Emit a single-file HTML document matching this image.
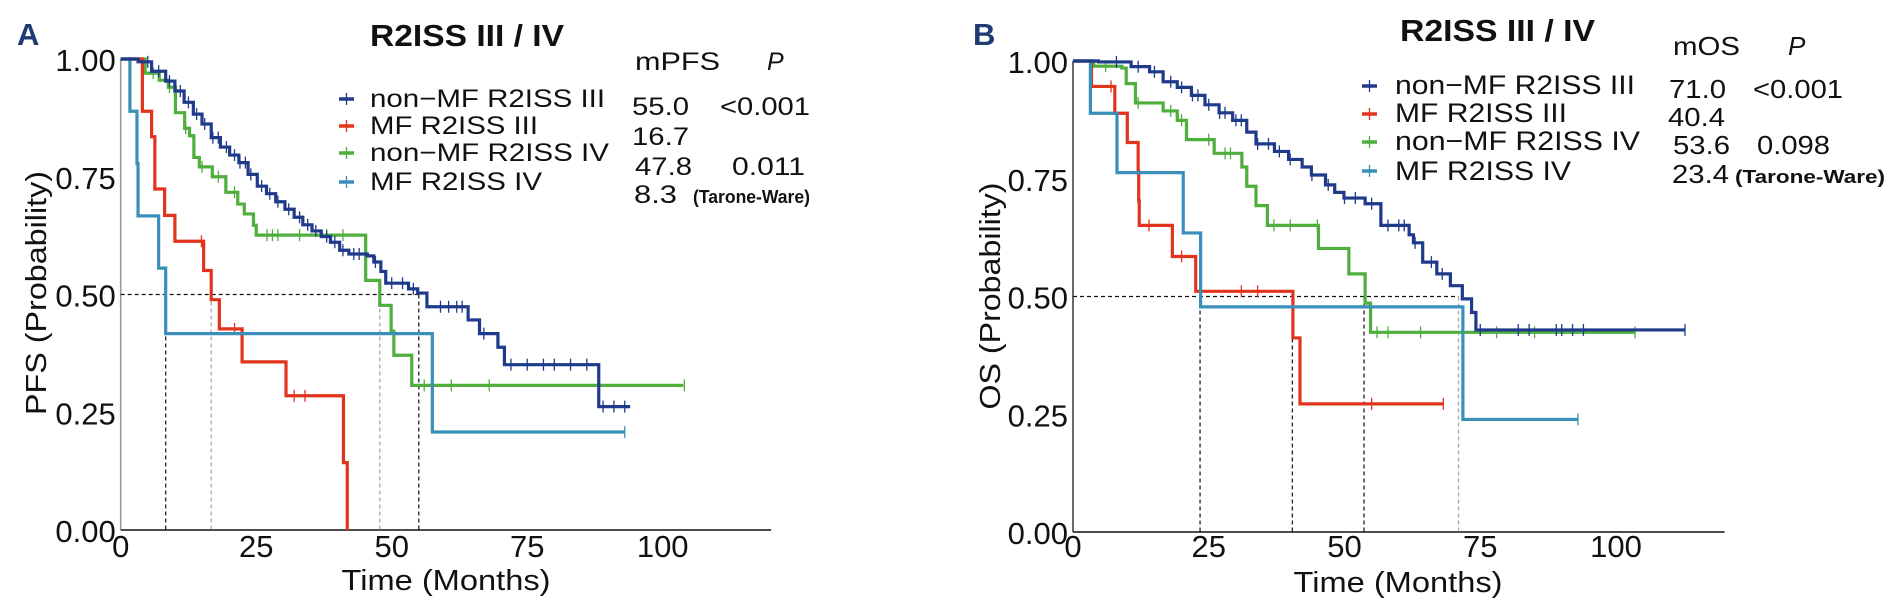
<!DOCTYPE html>
<html><head><meta charset="utf-8"><style>
html,body{margin:0;padding:0;background:#fff;}
svg{display:block;font-family:"Liberation Sans",Arial,sans-serif;}
</style></head><body>
<svg id="chart" width="1901" height="609" viewBox="0 0 1901 609" xmlns="http://www.w3.org/2000/svg">
<rect width="1901" height="609" fill="#fff"/>
<g id="panelA"></g>
<g id="panelB"></g>
</svg>
<script>
// ---------- Panel A (PFS) data ----------
const aNavyT=[3.2,5.7,8.3,10.0,11.7,13.4,15.0,16.7,18.4,20.1,21.8,23.5,25.2,26.9,28.6,30.3,32.0,33.6,35.3,37.0,38.7,40.4,42.1,45.5,46.7,48.0,48.9,53.1,54.8,56.5,64.1,66.2,69.6,70.8,88.2];
const aNavyS=[.994,.974,.953,.932,.908,.883,.862,.833,.813,.796,.780,.755,.730,.714,.697,.681,.664,.648,.635,.623,.611,.594,.586,.582,.569,.549,.524,.512,.503,.474,.446,.417,.388,.351,.262];
const aNavyEnd=94;
const aNavyCens=[5,7,9,11,12.5,14,15.5,17,18,19.5,21,22,23,24,26,27.5,29,31,33,34.5,36,38,39.5,41,43,44,47,50,52,54,59,60.5,62,63,67,72,75,78,80,83,86,89,91,93];
const aRedT=[4.0,5.7,6.3,8.1,10.0,15.3,16.7,18.2,22.4,30.5,41.1,41.8];
const aRedS=[.889,.835,.724,.668,.613,.551,.489,.427,.357,.285,.143,0];
const aRedEnd=41.8;
const aRedCens=[14.9,21,32,34];
const aGreenT=[4.5,5.4,7.1,8.8,10.1,11.8,12.7,13.5,14.5,16.9,19.4,21.6,22.8,24.5,25.0,45.2,47.8,49.9,50.4,53.7];
const aGreenS=[.97,.97,.955,.94,.886,.853,.837,.791,.771,.75,.717,.692,.671,.647,.626,.53,.477,.422,.371,.307];
const aGreenEnd=103.8;
const aGreenCens=[6,9,12,15,18,21,27,28,29,33,38,41,56,61,68,104];
const aLBlueT=[1.7,3.0,3.2,7.0,8.3,57.5];
const aLBlueS=[.889,.778,.667,.556,.417,.208];
const aLBlueEnd=93;
const aLBlueCens=[93];
const aMedians=[8.3,16.7,47.8,55.0];
const aMedianDark=[true,false,false,true];

// ---------- Panel B (OS) data ----------
const bNavyT=[4.7,10.7,14.1,16.6,19.2,21.8,24.3,26.9,29.4,32.0,33.7,37.1,39.7,42.2,43.9,46.5,48.2,49.9,53.8,56.7,61.9,62.7,64.4,67.0,69.5,71.7,73.4,74.2];
const bNavyS=[.998,.988,.977,.956,.944,.927,.907,.890,.874,.849,.824,.808,.791,.775,.758,.737,.721,.709,.697,.651,.631,.614,.573,.548,.523,.495,.466,.429];
const bNavyEnd=112.7;
const bNavyCens=[8,12,15,18,20,22,23,25,27,28,30,31,34,36,38,40,44,47,50,52,55,58,60,61,63,66,68,75,82,84,89,90,92,94,112.7];
const bRedT=[3.4,7.7,10.0,12.0,12.1,12.2,18.3,22.6,40.5,41.8];
const bRedS=[.946,.889,.827,.765,.703,.651,.585,.511,.412,.272];
const bRedEnd=68.2;
const bRedCens=[7,14,20,31,34,55,68.2];
const bGreenT=[3.8,9.0,9.8,11.5,16.6,19.2,20.9,26.0,31.1,32.0,33.7,35.8,45.2,50.8,53.8,54.8];
const bGreenS=[.989,.985,.952,.911,.894,.874,.833,.804,.775,.734,.693,.651,.602,.548,.486,.424];
const bGreenEnd=103.5;
const bGreenCens=[6,12,18,20,25,28,29,37,40,45,56,58,64,78,85,103.5];
const bLBlueT=[3.2,8.1,20.3,23.5,71.8];
const bLBlueS=[.889,.763,.635,.478,.239];
const bLBlueEnd=93;
const bLBlueCens=[93];
const bMedians=[23.4,40.4,53.6,71.0];
const bMedianDark=[true,true,true,false];

const xTicks=[0,25,50,75,100];
const yTicks=[0,0.25,0.5,0.75,1.0];
const yTickLabels=["0.00","0.25","0.50","0.75","1.00"];

const NS="http://www.w3.org/2000/svg";
const NAVY="#1f3a8a",RED="#e2341d",GREEN="#4fae3c",LBLUE="#3a90b8";

function mk(tag,attrs,parent){const e=document.createElementNS(NS,tag);for(const k in attrs)e.setAttribute(k,attrs[k]);parent.appendChild(e);return e;}
function txt(parent,s,attrs){const e=mk('text',attrs,parent);e.textContent=s;return e;}

function survAt(T,S,t){let s=1;for(let i=0;i<T.length;i++){if(T[i]<=t)s=S[i];}return s;}

function drawPanel(g,cfg){
  const X=t=>cfg.x0+t*cfg.xs;
  const Y=s=>cfg.y0-s*cfg.ys;
  // axes
  const ya=mk('line',{x1:X(0),y1:Y(1),x2:X(0),y2:Y(0),stroke:cfg.yAxisColor,'stroke-width':1.6},g);
  
  
  const xa=mk('line',{x1:X(0),y1:Y(0),x2:X(120),y2:Y(0),stroke:'#111','stroke-width':1.6},g);
  
  
  yTicks.forEach((v,i)=>{
    const t=txt(g,yTickLabels[i],{x:X(0)-5,y:Y(v)+12,'font-size':31,'text-anchor':'end',fill:'#111'});
    
    
  });
  xTicks.forEach(v=>{
    const t=txt(g,String(v),{x:X(v),y:557,'font-size':31,'text-anchor':'middle',fill:'#111'});
    
    
  });
  // median lines
  const maxMed=Math.max(...cfg.medians);
  const hl=mk('line',{x1:X(0),y1:Y(0.5),x2:X(maxMed),y2:Y(0.5),stroke:'#111','stroke-width':1.3,'stroke-dasharray':'4,3'},g);
  
  
  cfg.medians.forEach((m,i)=>{
    const l=mk('line',{x1:X(m),y1:Y(0.5),x2:X(m),y2:Y(0),stroke:cfg.medDark[i]?'#222':'#aaa','stroke-width':1.3,'stroke-dasharray':'4,3'},g);
    
    
  });
  // curves
  cfg.series.forEach(sr=>{
    let d=`M${X(0)},${Y(1)}`;
    for(let i=0;i<sr.T.length;i++){d+=` H${X(sr.T[i])} V${Y(sr.S[i])}`;}
    d+=` H${X(sr.end)}`;
    const p=mk('path',{d:d,fill:'none',stroke:sr.color,'stroke-width':3.2},g);
    
    
    sr.cens.forEach(c=>{
      const yy=Y(survAt(sr.T,sr.S,c));
      const cl=mk('line',{x1:X(c),y1:yy-6,x2:X(c),y2:yy+6,stroke:sr.color,'stroke-width':1.3},g);
      
      
    });
  });
}

const gA=document.getElementById('panelA');
drawPanel(gA,{x0:120.7,xs:5.42,y0:530,ys:471,yAxisColor:'#999',medians:aMedians,medDark:aMedianDark,series:[
  {name:'nonmf-r2iss-iv',T:aGreenT,S:aGreenS,end:aGreenEnd,cens:aGreenCens,color:GREEN},
  {name:'mf-r2iss-iii',T:aRedT,S:aRedS,end:aRedEnd,cens:aRedCens,color:RED},
  {name:'mf-r2iss-iv',T:aLBlueT,S:aLBlueS,end:aLBlueEnd,cens:aLBlueCens,color:LBLUE},
  {name:'nonmf-r2iss-iii',T:aNavyT,S:aNavyS,end:aNavyEnd,cens:aNavyCens,color:NAVY}]});
const gB=document.getElementById('panelB');
drawPanel(gB,{x0:1073,xs:5.43,y0:532,ys:471,yAxisColor:'#444',medians:bMedians,medDark:bMedianDark,series:[
  {name:'nonmf-r2iss-iv',T:bGreenT,S:bGreenS,end:bGreenEnd,cens:bGreenCens,color:GREEN},
  {name:'mf-r2iss-iii',T:bRedT,S:bRedS,end:bRedEnd,cens:bRedCens,color:RED},
  {name:'mf-r2iss-iv',T:bLBlueT,S:bLBlueS,end:bLBlueEnd,cens:bLBlueCens,color:LBLUE},
  {name:'nonmf-r2iss-iii',T:bNavyT,S:bNavyS,end:bNavyEnd,cens:bNavyCens,color:NAVY}]});
</script>
<svg style="position:absolute;left:0;top:0" width="1901" height="609" viewBox="0 0 1901 609" xmlns="http://www.w3.org/2000/svg" font-family="Liberation Sans, Arial, sans-serif">
<!-- Panel A text -->
<text x="17" y="45" font-size="31" font-weight="bold" fill="#1f3b73">A</text>
<text x="370" y="46" font-size="31" font-weight="bold" fill="#111" textLength="194" lengthAdjust="spacingAndGlyphs">R2ISS III / IV</text>
<text transform="translate(46,293) rotate(-90)" font-size="29" text-anchor="middle" fill="#111" textLength="244" lengthAdjust="spacingAndGlyphs">PFS (Probability)</text>
<text x="446" y="590" font-size="29" text-anchor="middle" fill="#111" textLength="209" lengthAdjust="spacingAndGlyphs">Time (Months)</text>
<g font-size="25" fill="#111">
  <g><line x1="339" y1="99" x2="354" y2="99" stroke="#1f3a8a" stroke-width="3.5"/><line x1="346.5" y1="93" x2="346.5" y2="105" stroke="#1f3a8a" stroke-width="1.3"/><text x="370" y="107" textLength="235" lengthAdjust="spacingAndGlyphs">non−MF R2ISS III</text></g>
  <g><line x1="339" y1="126" x2="354" y2="126" stroke="#e2341d" stroke-width="3.5"/><line x1="346.5" y1="120" x2="346.5" y2="132" stroke="#e2341d" stroke-width="1.3"/><text x="370" y="134" textLength="168" lengthAdjust="spacingAndGlyphs">MF R2ISS III</text></g>
  <g><line x1="339" y1="153" x2="354" y2="153" stroke="#4fae3c" stroke-width="3.5"/><line x1="346.5" y1="147" x2="346.5" y2="159" stroke="#4fae3c" stroke-width="1.3"/><text x="370" y="161" textLength="239" lengthAdjust="spacingAndGlyphs">non−MF R2ISS IV</text></g>
  <g><line x1="339" y1="182" x2="354" y2="182" stroke="#3a90b8" stroke-width="3.5"/><line x1="346.5" y1="176" x2="346.5" y2="188" stroke="#3a90b8" stroke-width="1.3"/><text x="370" y="190" textLength="172" lengthAdjust="spacingAndGlyphs">MF R2ISS IV</text></g>
</g>
<g font-size="25" fill="#111">
  <text x="635" y="70" textLength="85" lengthAdjust="spacingAndGlyphs">mPFS</text>
  <text x="767" y="70" font-style="italic">P</text>
  <text x="632" y="115" textLength="57" lengthAdjust="spacingAndGlyphs">55.0</text>
  <text x="720" y="115" textLength="90" lengthAdjust="spacingAndGlyphs">&lt;0.001</text>
  <text x="632" y="145" textLength="57" lengthAdjust="spacingAndGlyphs">16.7</text>
  <text x="635" y="175" textLength="57" lengthAdjust="spacingAndGlyphs">47.8</text>
  <text x="732" y="175" textLength="73" lengthAdjust="spacingAndGlyphs">0.011</text>
  <text x="634" y="203" textLength="43" lengthAdjust="spacingAndGlyphs">8.3</text>
  <text x="693" y="203" font-size="18" font-weight="bold" textLength="117" lengthAdjust="spacingAndGlyphs">(Tarone-Ware)</text>
</g>
<!-- Panel B text -->
<text x="973" y="45" font-size="31" font-weight="bold" fill="#1f3b73">B</text>
<text x="1400" y="41" font-size="31" font-weight="bold" fill="#111" textLength="195" lengthAdjust="spacingAndGlyphs">R2ISS III / IV</text>
<text transform="translate(1000,296) rotate(-90)" font-size="29" text-anchor="middle" fill="#111" textLength="227" lengthAdjust="spacingAndGlyphs">OS (Probability)</text>
<text x="1398" y="592" font-size="29" text-anchor="middle" fill="#111" textLength="209" lengthAdjust="spacingAndGlyphs">Time (Months)</text>
<g font-size="27" fill="#111">
  <g><line x1="1362" y1="86" x2="1377" y2="86" stroke="#1f3a8a" stroke-width="3.5"/><line x1="1369.5" y1="80" x2="1369.5" y2="92" stroke="#1f3a8a" stroke-width="1.3"/><text x="1395" y="94" textLength="240" lengthAdjust="spacingAndGlyphs">non−MF R2ISS III</text></g>
  <g><line x1="1362" y1="114" x2="1377" y2="114" stroke="#e2341d" stroke-width="3.5"/><line x1="1369.5" y1="108" x2="1369.5" y2="120" stroke="#e2341d" stroke-width="1.3"/><text x="1395" y="122" textLength="172" lengthAdjust="spacingAndGlyphs">MF R2ISS III</text></g>
  <g><line x1="1362" y1="142" x2="1377" y2="142" stroke="#4fae3c" stroke-width="3.5"/><line x1="1369.5" y1="136" x2="1369.5" y2="148" stroke="#4fae3c" stroke-width="1.3"/><text x="1395" y="150" textLength="245" lengthAdjust="spacingAndGlyphs">non−MF R2ISS IV</text></g>
  <g><line x1="1362" y1="171" x2="1377" y2="171" stroke="#3a90b8" stroke-width="3.5"/><line x1="1369.5" y1="165" x2="1369.5" y2="177" stroke="#3a90b8" stroke-width="1.3"/><text x="1395" y="180" textLength="176" lengthAdjust="spacingAndGlyphs">MF R2ISS IV</text></g>
</g>
<g font-size="26" fill="#111">
  <text x="1673" y="55" textLength="67" lengthAdjust="spacingAndGlyphs">mOS</text>
  <text x="1788" y="55" font-style="italic">P</text>
  <text x="1669" y="98" textLength="57" lengthAdjust="spacingAndGlyphs">71.0</text>
  <text x="1753" y="98" textLength="90" lengthAdjust="spacingAndGlyphs">&lt;0.001</text>
  <text x="1668" y="126" textLength="57" lengthAdjust="spacingAndGlyphs">40.4</text>
  <text x="1673" y="154" textLength="57" lengthAdjust="spacingAndGlyphs">53.6</text>
  <text x="1757" y="154" textLength="73" lengthAdjust="spacingAndGlyphs">0.098</text>
  <text x="1672" y="183" textLength="57" lengthAdjust="spacingAndGlyphs">23.4</text>
  <text x="1735" y="183" font-size="18" font-weight="bold" textLength="150" lengthAdjust="spacingAndGlyphs">(Tarone-Ware)</text>
</g>
</svg>
</body></html>
